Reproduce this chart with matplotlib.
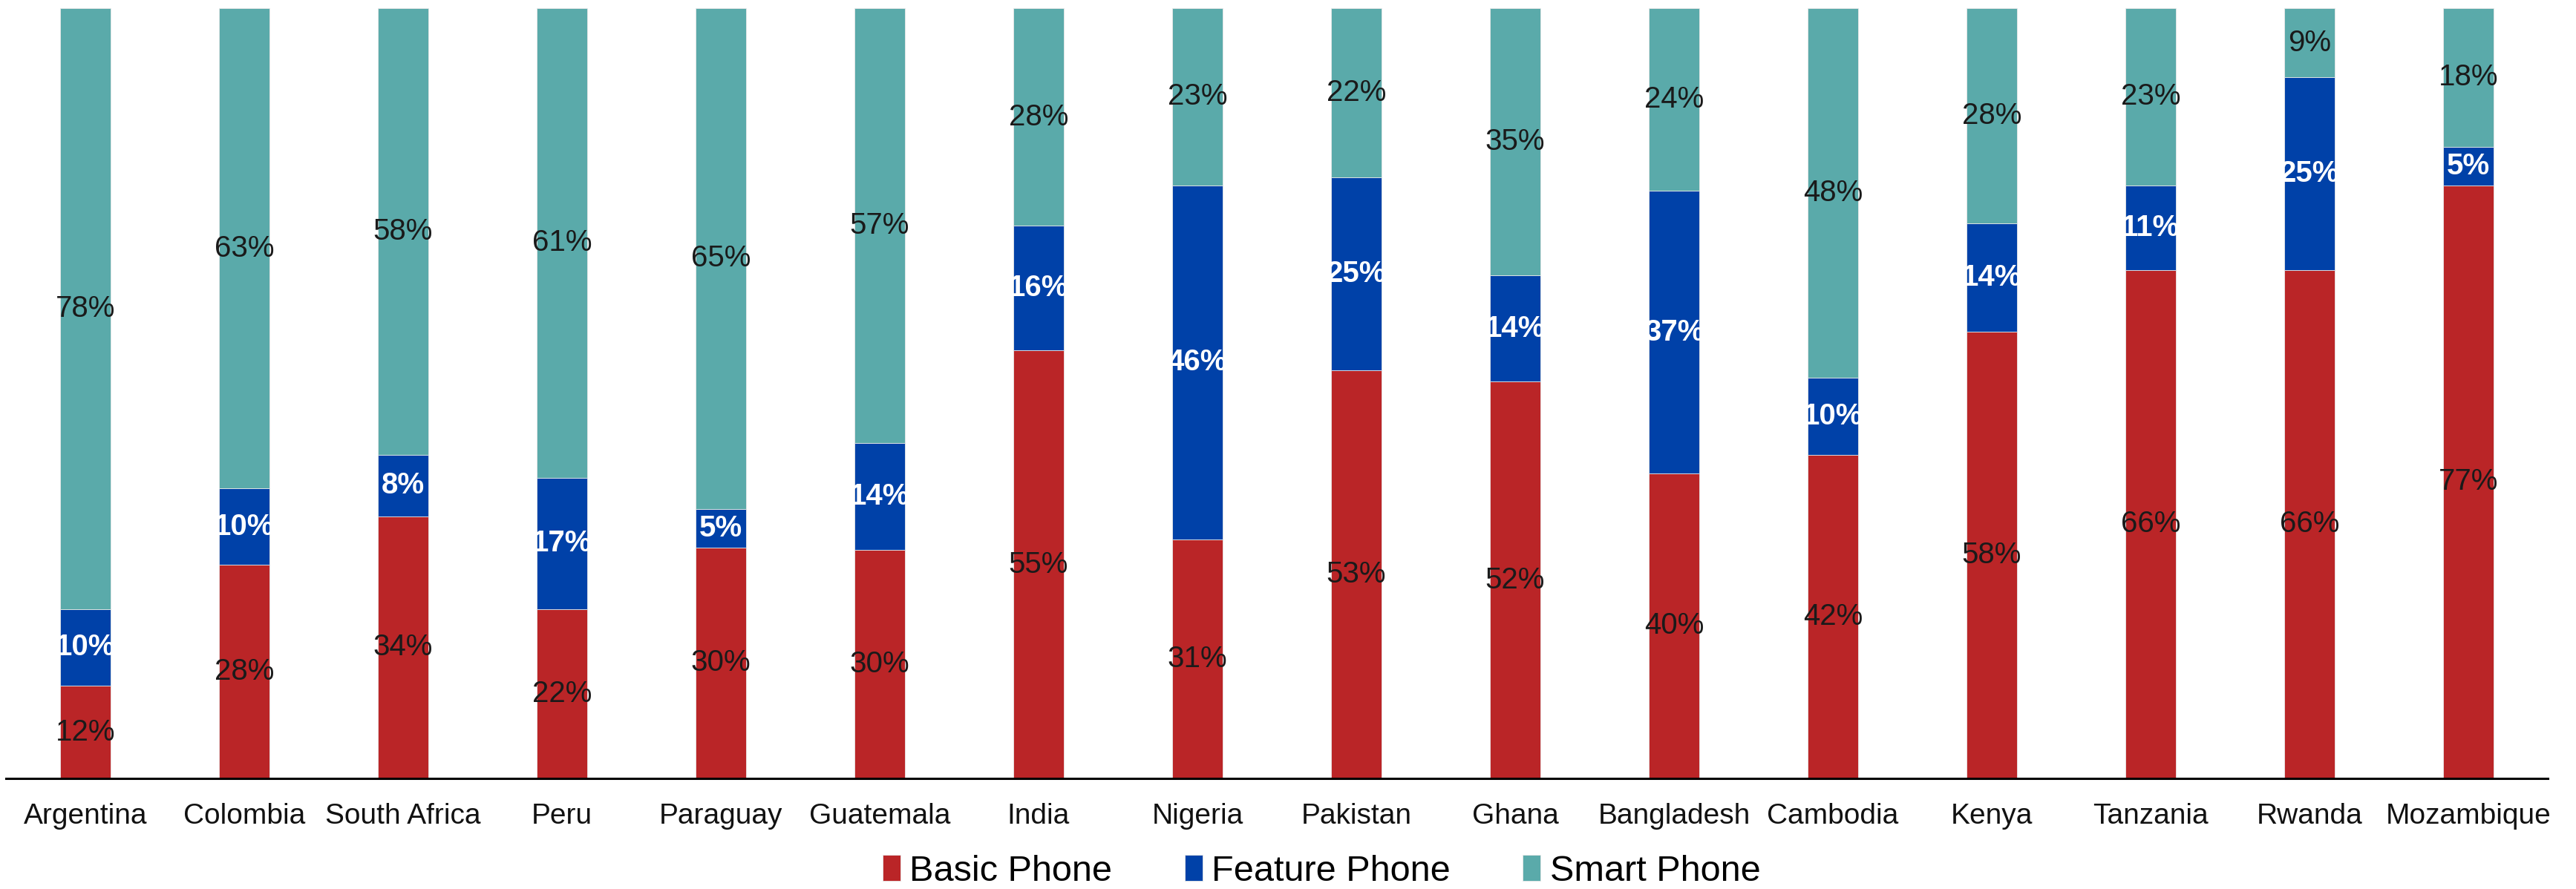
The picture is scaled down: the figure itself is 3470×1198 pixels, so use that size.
import numpy as np
import matplotlib.pyplot as plt

plt.rcParams['font.family'] = ['Liberation Sans', 'DejaVu Sans']

# Share of phone type by country (%), as labelled on the chart
countries = ['Argentina', 'Colombia', 'South Africa', 'Peru', 'Paraguay',
             'Guatemala', 'India', 'Nigeria', 'Pakistan', 'Ghana',
             'Bangladesh', 'Cambodia', 'Kenya', 'Tanzania', 'Rwanda',
             'Mozambique']
basic = [12, 28, 34, 22, 30, 30, 55, 31, 53, 52, 40, 42, 58, 66, 66, 77]
feature = [10, 10, 8, 17, 5, 14, 16, 46, 25, 14, 37, 10, 14, 11, 25, 5]
smart = [78, 63, 58, 61, 65, 57, 28, 23, 22, 35, 24, 48, 28, 23, 9, 18]

series = ['Basic Phone', 'Feature Phone', 'Smart Phone']
colors = ['#BA2527', '#0041A8', '#5AAAAA']
label_colors = ['#1a1a1a', 'white', '#1a1a1a']
label_weights = ['normal', 'bold', 'normal']


def main():
    values = np.array([basic, feature, smart], dtype=float)
    # rounded shares sometimes add up to 101, so scale each bar to 100
    heights = values / values.sum(axis=0) * 100
    x = np.arange(len(countries))

    fig = plt.figure(figsize=(34.70, 11.98), dpi=100)
    ax = fig.add_axes([0.0023, 0.1244, 0.9867, 0.8666])

    bottom = np.zeros(len(countries))
    for i, name in enumerate(series):
        ax.bar(x, heights[i], 0.32, bottom=bottom, color=colors[i],
               edgecolor='#e8e8e8', linewidth=0.6, label=name)
        for j in range(len(countries)):
            ax.text(x[j], bottom[j] + heights[i][j] / 2,
                    '%d%%' % values[i][j], ha='center', va='center',
                    fontsize=29, color=label_colors[i],
                    fontweight=label_weights[i])
        bottom += heights[i]

    ax.set_xlim(-0.5, len(countries) - 0.5)
    ax.set_ylim(0, 100)
    ax.set_xticks(x)
    ax.set_xticklabels(countries, fontsize=28, color='#111111')
    ax.tick_params(axis='x', length=0, pad=24)
    ax.set_yticks([])
    for side in ['top', 'right', 'left']:
        ax.spines[side].set_visible(False)
    ax.spines['bottom'].set_linewidth(2.2)
    ax.spines['bottom'].set_color('black')

    fig.legend(loc='center', bbox_to_anchor=(0.513, 0.02), ncol=3,
               frameon=False, fontsize=35, handlelength=0.5,
               handleheight=0.75, handletextpad=0.25, columnspacing=2.0)

    fig.savefig('out.png', dpi=100, facecolor='white')


if __name__ == '__main__':
    main()
